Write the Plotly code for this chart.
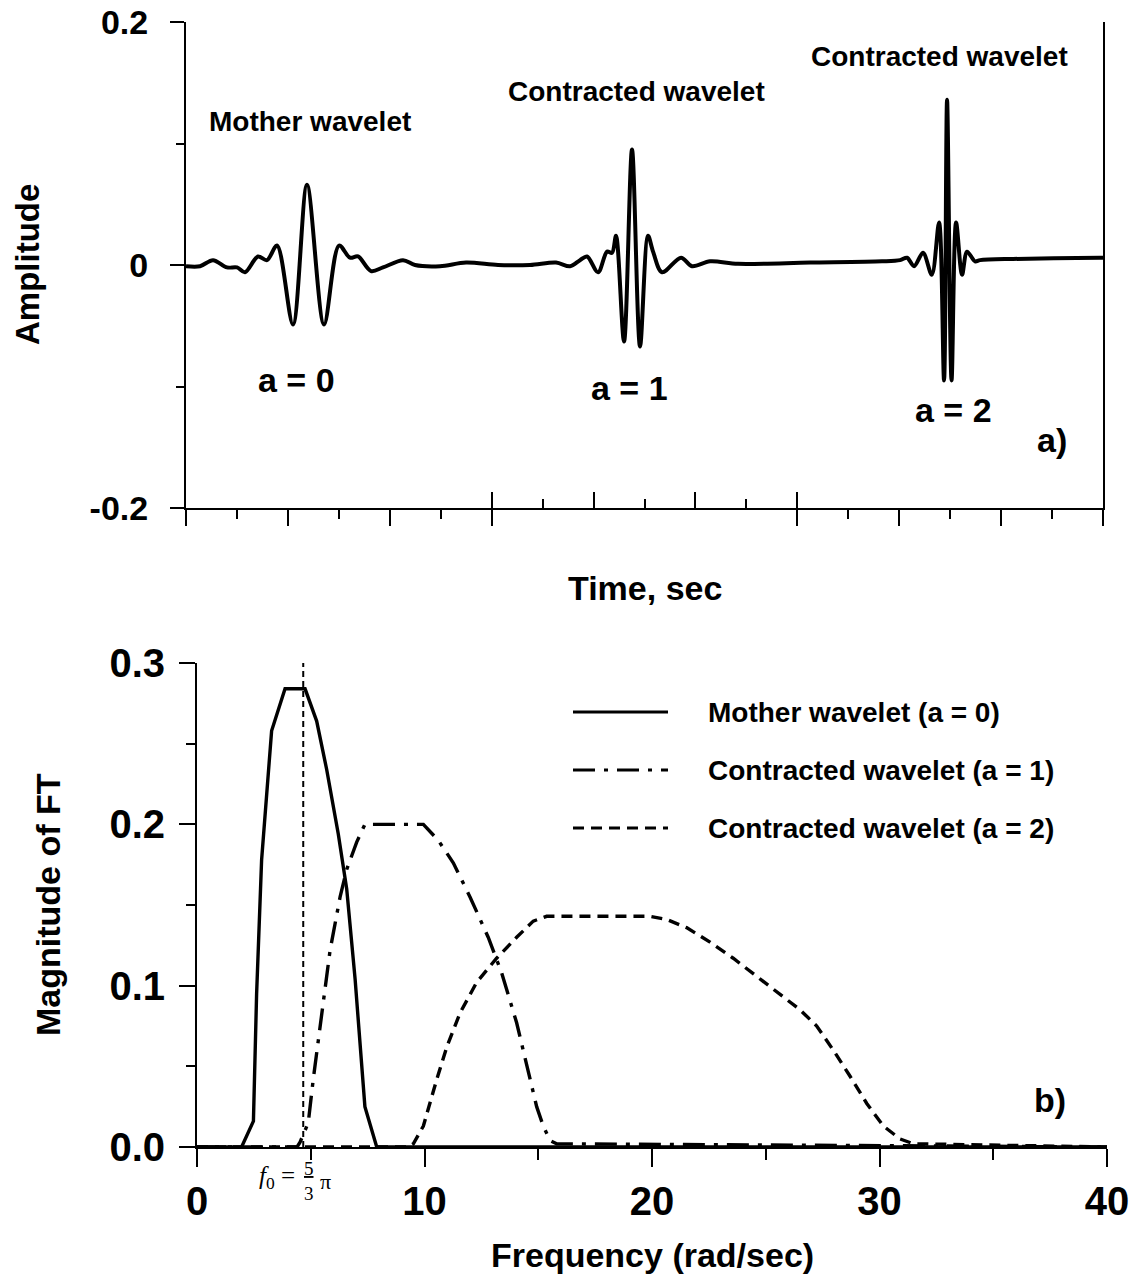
import plotly.graph_objects as go

# ---------------- data ----------------
# a) time signal: mother wavelet (a=0) and contracted wavelets (a=1, a=2)
time_t = [0.0, 0.275, 0.530, 0.805, 1.001, 1.158, 1.413, 1.590, 1.786, 2.100,
          2.375, 2.709, 3.004, 3.219, 3.377, 3.632, 3.867, 4.260, 4.495, 4.986,
          5.497, 6.125, 6.753, 7.263, 7.538, 7.734, 7.872, 8.088, 8.265, 8.363,
          8.441, 8.598, 8.755, 8.912, 9.069, 9.168, 9.344, 9.717, 9.933, 10.287,
          10.836, 12.250, 13.663, 14.017, 14.154, 14.291, 14.468, 14.639, 14.782, 14.880,
          14.939, 15.027, 15.116, 15.233, 15.332, 15.489, 15.587, 16.235, 17.943, 18.0]
amplitude = [-0.001, -0.001, 0.004, -0.002, -0.002, -0.006, 0.007, 0.004, 0.016, -0.049,
             0.066, -0.049, 0.016, 0.006, 0.007, -0.005, -0.002, 0.004, 0.0, -0.001,
             0.002, 0.0, 0.0, 0.002, -0.001, 0.004, 0.007, -0.006, 0.011, 0.010,
             0.024, -0.063, 0.095, -0.067, 0.024, 0.011, -0.006, 0.006, -0.001, 0.003,
             0.001, 0.002, 0.003, 0.004, 0.006, -0.001, 0.010, -0.008, 0.035, -0.095,
             0.136, -0.095, 0.035, -0.008, 0.011, 0.003, 0.004, 0.005, 0.006, 0.006]

# b) magnitude of Fourier transform
freq_mother = [0, 1.96, 2.48, 2.62, 2.84, 3.28, 3.87, 4.75, 5.26, 5.70, 6.21, 6.58,
               6.95, 7.16, 7.38, 7.90, 40]
mag_mother = [0, 0, 0.016, 0.095, 0.178, 0.258, 0.284, 0.284, 0.264, 0.234, 0.194, 0.160,
              0.104, 0.065, 0.025, 0.0, 0]

freq_a1 = [0, 4.40, 4.53, 4.89, 5.11, 5.48, 5.85, 6.29, 6.58, 7.02, 7.38, 9.95,
           10.61, 11.27, 12.00, 12.80, 13.39, 14.05, 14.49, 14.93, 15.22, 15.52, 15.81, 40]
mag_a1 = [0, 0, 0.003, 0.015, 0.042, 0.083, 0.122, 0.155, 0.172, 0.189, 0.200, 0.200,
          0.190, 0.176, 0.155, 0.130, 0.108, 0.077, 0.050, 0.025, 0.013, 0.004, 0.002, 0]

freq_a2 = [0, 9.30, 9.51, 9.95, 10.54, 10.98, 11.56, 12.29, 13.17, 14.05, 14.78, 15.37,
           19.91, 20.65, 21.52, 22.55, 23.57, 24.60, 25.63, 26.51, 27.24, 27.97, 28.70,
           29.44, 30.17, 30.90, 31.49, 40]
mag_a2 = [0, 0, 0.002, 0.013, 0.042, 0.062, 0.083, 0.102, 0.117, 0.130, 0.140, 0.143,
          0.143, 0.141, 0.136, 0.127, 0.117, 0.106, 0.095, 0.085, 0.075, 0.060, 0.044,
          0.027, 0.013, 0.005, 0.002, 0]

f0_x = [4.67, 4.67]
f0_y = [0.0, 0.3]

series_names = ["Mother wavelet (a = 0)", "Contracted wavelet (a = 1)",
                "Contracted wavelet (a = 2)"]
series_dash = ["solid", "22px,9px,4px,9px", "11px,7px"]

top_yticks = [-0.2, 0, 0.2]
top_yticktext = ["-0.2", "0", "0.2"]
bot_yticks = [0, 0.1, 0.2, 0.3]
bot_yticktext = ["0.0", "0.1", "0.2", "0.3"]
bot_xticks = [0, 10, 20, 30, 40]

# ---------------- figure geometry ----------------
OFF = 8                      # page body margin of the browser
W, H = 1141 - OFF, 1279 - OFF
FONT = "Liberation Sans, Arial, sans-serif"
SERIF = "Liberation Serif, Times New Roman, serif"
BLACK = "#000000"


def px(x):
    return (x - OFF) / W


def py(y):
    return 1 - (y - OFF) / H


fig = go.Figure()

fig.add_trace(go.Scatter(
    x=time_t, y=amplitude, mode="lines", xaxis="x", yaxis="y",
    line=dict(color=BLACK, width=4, shape="spline", smoothing=0.9),
    showlegend=False, cliponaxis=False, hoverinfo="skip"))

# invisible companion trace so the overlaid tick axis (middle time segment) is drawn
fig.add_trace(go.Scatter(
    x=[time_t[0], time_t[-1]], y=[0, 0], mode="lines", xaxis="x3", yaxis="y",
    line=dict(color="rgba(0,0,0,0)", width=0), showlegend=False, hoverinfo="skip"))

for fx, fy, nm, ds in zip([freq_mother, freq_a1, freq_a2], [mag_mother, mag_a1, mag_a2],
                          series_names, series_dash):
    fig.add_trace(go.Scatter(
        x=fx, y=fy, mode="lines", xaxis="x2", yaxis="y2", name=nm,
        line=dict(color=BLACK, width=3.4, dash=ds), cliponaxis=False,
        showlegend=False))

fig.add_trace(go.Scatter(
    x=f0_x, y=f0_y, mode="lines", xaxis="x2", yaxis="y2",
    line=dict(color=BLACK, width=2, dash="6px,4px"),
    showlegend=False, cliponaxis=False, hoverinfo="skip"))

tickfont_top = dict(family=FONT, size=34, color=BLACK, weight="bold")
tickfont_bot = dict(family=FONT, size=40, color=BLACK, weight="bold")

fig.update_layout(
    width=W, height=H,
    margin=dict(l=0, r=0, t=0, b=0),
    paper_bgcolor="white", plot_bgcolor="white",
    showlegend=False,
    xaxis=dict(domain=[px(186), px(1103)], range=[0, 18], anchor="y",
               showline=True, linecolor=BLACK, linewidth=2,
               showgrid=False, zeroline=False, showticklabels=False,
               tickmode="array", tickvals=[0, 2, 4, 6, 12, 14, 16, 18],
               ticks="outside", ticklen=16, tickwidth=2, tickcolor=BLACK,
               minor=dict(tickmode="array", tickvals=[1, 3, 5, 13, 15, 17],
                          ticks="outside", ticklen=9, tickwidth=2, tickcolor=BLACK),
               automargin=False),
    xaxis3=dict(overlaying="x", anchor="y", side="bottom", range=[0, 18],
                domain=[px(186), px(1103)],
                showline=False, showgrid=False, zeroline=False, showticklabels=False,
                tickmode="array", tickvals=[6, 8, 10, 12],
                ticks="inside", ticklen=16, tickwidth=2, tickcolor=BLACK,
                minor=dict(tickmode="array", tickvals=[7, 9, 11],
                           ticks="inside", ticklen=9, tickwidth=2, tickcolor=BLACK),
                automargin=False),
    yaxis=dict(domain=[py(508), py(22)], range=[-0.2, 0.2], anchor="x",
               showline=True, linecolor=BLACK, linewidth=2, mirror=True,
               showgrid=False, zeroline=False,
               tickmode="array", tickvals=top_yticks, ticktext=top_yticktext,
               ticks="outside", ticklen=14, tickwidth=2, tickcolor=BLACK,
               ticklabelstandoff=15, tickfont=tickfont_top, ticklabeloverflow="allow",
               minor=dict(tickmode="array", tickvals=[-0.1, 0.1],
                          ticks="outside", ticklen=8, tickwidth=2, tickcolor=BLACK),
               automargin=False),
    xaxis2=dict(domain=[px(197), px(1107)], range=[0, 40], anchor="y2",
                showline=True, linecolor=BLACK, linewidth=2,
                showgrid=False, zeroline=False,
                tickmode="array", tickvals=bot_xticks,
                ticks="outside", ticklen=18, tickwidth=2, tickcolor=BLACK,
                ticklabelstandoff=0, tickfont=tickfont_bot, ticklabeloverflow="allow",
                minor=dict(tickmode="array", tickvals=[5, 15, 25, 35],
                           ticks="outside", ticklen=11, tickwidth=2, tickcolor=BLACK),
                automargin=False),
    yaxis2=dict(domain=[py(1147), py(663)], range=[0, 0.3], anchor="x2",
                showline=True, linecolor=BLACK, linewidth=2,
                showgrid=False, zeroline=False,
                tickmode="array", tickvals=bot_yticks, ticktext=bot_yticktext,
                ticks="outside", ticklen=16, tickwidth=2, tickcolor=BLACK,
                ticklabelstandoff=6, tickfont=tickfont_bot, ticklabeloverflow="allow",
                minor=dict(tickmode="array", tickvals=[0.05, 0.15, 0.25],
                           ticks="outside", ticklen=9, tickwidth=2, tickcolor=BLACK),
                automargin=False),
)


def bold(size):
    return dict(family=FONT, size=size, color=BLACK, weight="bold")


def A(text, x, y, font, xref="paper", yref="paper", **kw):
    d = dict(text=text, x=x, y=y, xref=xref, yref=yref, font=font, showarrow=False,
             xanchor="center", yanchor="middle")
    d.update(kw)
    return d


ann = [
    # axis titles
    A("Amplitude", px(28), py(265), bold(33), textangle=-90),
    A("Time, sec", px(645), py(588), bold(34)),
    A("Magnitude of FT", px(48), py(905), bold(34), textangle=-90),
    A("Frequency (rad/sec)", px(652), py(1255), bold(34)),
    # panel a labels
    A("Mother wavelet", 2.43, 0.1177, bold(28), "x", "y"),
    A("Contracted wavelet", 8.85, 0.1424, bold(28), "x", "y"),
    A("Contracted wavelet", 14.80, 0.1712, bold(28), "x", "y"),
    A("a = 0", 2.16, -0.0946, bold(34), "x", "y"),
    A("a = 1", 8.70, -0.1012, bold(34), "x", "y"),
    A("a = 2", 15.06, -0.1193, bold(34), "x", "y"),
    A("a)", 17.0, -0.144, bold(34), "x", "y"),
    # panel b labels
    A("b)", 37.5, 0.029, bold(34), "x2", "y2"),
    A("<i>f</i><sub>0</sub> =", px(277), py(1177), dict(family=SERIF, size=25, color=BLACK)),
    A("<u>5</u><br>3", px(309), py(1181), dict(family=SERIF, size=19, color=BLACK)),
    A("π", px(325), py(1181), dict(family=SERIF, size=22, color=BLACK)),
]

# legend (key lines + labels)
legend_rows = [712, 770, 828]
shapes = []
for row, nm, ds in zip(legend_rows, series_names, series_dash):
    shapes.append(dict(type="line", xref="paper", yref="paper",
                       x0=px(573), x1=px(668), y0=py(row), y1=py(row),
                       line=dict(color=BLACK, width=3, dash=ds)))
    ann.append(A(nm, px(706), py(row), bold(28), xanchor="left"))

fig.update_layout(annotations=ann, shapes=shapes)

fig.write_html("out.html")
